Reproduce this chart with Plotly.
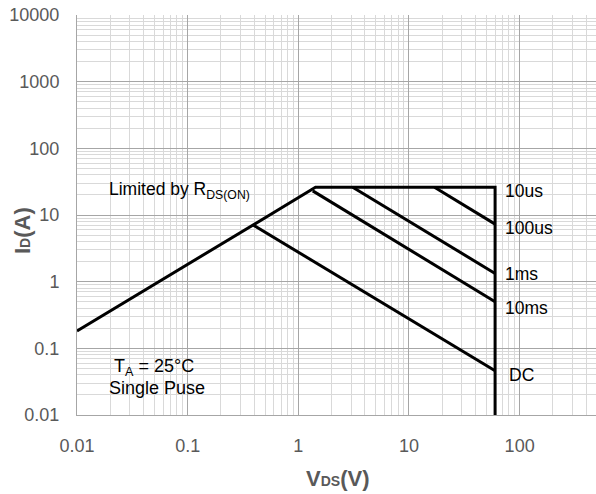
import math
import plotly.graph_objects as go

# ---- data ----
x_ticks = [0.01, 0.1, 1, 10, 100]
x_tick_labels = ["0.01", "0.1", "1", "10", "100"]
y_ticks = [0.01, 0.1, 1, 10, 100, 1000, 10000]
y_tick_labels = ["0.01", "0.1", "1", "10", "100", "1000", "10000"]

# R_DS(on) limit + current limit + voltage limit outline
outline_v = [0.01, 1.43, 60, 60]
outline_i = [0.182, 26, 26, 0.01]

dc_v = [0.39, 60]
dc_i = [7.1, 0.046]
ms10_v = [1.35, 60]
ms10_i = [23, 0.5]
ms1_v = [3.1, 60]
ms1_i = [26, 1.33]
us100_v = [17, 60]
us100_i = [26, 7.3]

curve_labels = ["10us", "100us", "1ms", "10ms", "DC"]
label_i = [23.1, 6.45, 1.30, 0.405, 0.040]

FONT = "Liberation Sans, Arial, sans-serif"
W, H = 596, 494
L, T, R, B = 77, 15, 0, 79
PW, PH = W - L - R, H - T - B

fig = go.Figure()
line = dict(color="black", width=3)
for xs, ys in [(outline_v, outline_i), (dc_v, dc_i), (ms10_v, ms10_i),
               (ms1_v, ms1_i), (us100_v, us100_i)]:
    fig.add_trace(go.Scatter(x=xs, y=ys, mode="lines", line=line,
                             showlegend=False, hoverinfo="skip"))

for txt, yi in zip(curve_labels, label_i):
    fig.add_annotation(x=math.log10(60) + (0.105 if txt == "DC" else 0.075),
                       y=math.log10(yi), xref="x", yref="y", text=txt,
                       showarrow=False, xanchor="left", yanchor="middle",
                       font=dict(family=FONT, size=17.5, color="black"))

fig.add_annotation(xref="paper", yref="paper", x=(107 - L) / PW,
                   y=(415 - 191) / PH, text="Limited by R<sub>DS(ON)</sub>",
                   showarrow=False, xanchor="left", yanchor="middle",
                   font=dict(family=FONT, size=17.5, color="black"))
fig.add_annotation(xref="paper", yref="paper", x=(154 - L) / PW,
                   y=(415 - 367) / PH, text="T<sub>A</sub> = 25°C",
                   showarrow=False, xanchor="center", yanchor="middle",
                   font=dict(family=FONT, size=18, color="black"))
fig.add_annotation(xref="paper", yref="paper", x=(157 - L) / PW,
                   y=(415 - 388) / PH, text="Single Puse",
                   showarrow=False, xanchor="center", yanchor="middle",
                   font=dict(family=FONT, size=18, color="black"))

# axis titles
fig.add_annotation(xref="paper", yref="paper", x=(337 - L) / PW,
                   y=(415 - 478) / PH,
                   text="<b>V<span style='font-size:14px'>DS</span>(V)</b>",
                   showarrow=False, xanchor="center", yanchor="middle",
                   font=dict(family=FONT, size=22, color="#595959"))
fig.add_annotation(xref="paper", yref="paper", x=(22 - L) / PW,
                   y=(415 - 231) / PH, textangle=-90,
                   text="<b>I<span style='font-size:14px'>D</span>(A)</b>",
                   showarrow=False, xanchor="center", yanchor="middle",
                   font=dict(family=FONT, size=22, color="#595959"))

axis_common = dict(
    type="log", showgrid=True, gridcolor="#a6a6a6", gridwidth=1,
    zeroline=False, showline=True, linecolor="#a6a6a6", linewidth=1,
    ticks="", automargin=False,
    tickfont=dict(family=FONT, size=18, color="#595959"),
    minor=dict(dtick="D1", showgrid=True, gridcolor="#d9d9d9", gridwidth=1, ticks=""),
)
fig.update_xaxes(**axis_common, range=[-2, 2.69], tickmode="array",
                 tickvals=x_ticks, ticktext=x_tick_labels, ticklabelstandoff=14)
fig.update_yaxes(**axis_common, range=[-2, 4], tickmode="array",
                 tickvals=y_ticks, ticktext=y_tick_labels, ticklabelstandoff=13)

fig.update_layout(width=W, height=H, margin=dict(l=L, t=T, r=R, b=B, autoexpand=False),
                  plot_bgcolor="white", paper_bgcolor="white",
                  font=dict(family=FONT))
fig.write_html("out.html", config={"displayModeBar": False},
               post_script="document.body.style.margin='0';document.body.style.overflow='hidden';")
